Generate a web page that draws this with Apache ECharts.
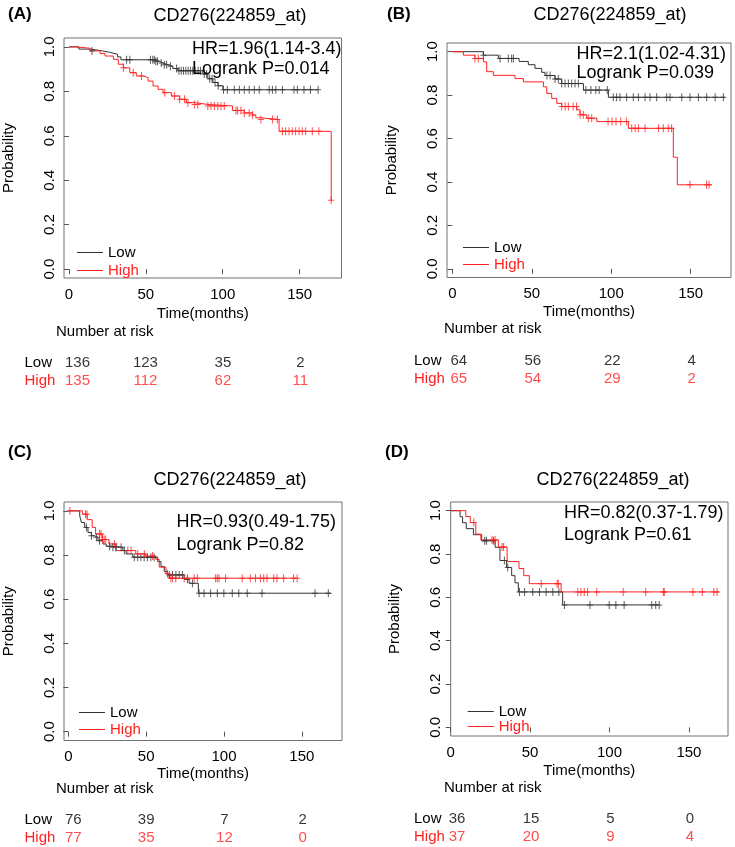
<!DOCTYPE html>
<html>
<head>
<meta charset="utf-8">
<title>CD276(224859_at) KM plots</title>
<script src="https://cdn.jsdelivr.net/npm/echarts@6.0.0/dist/echarts.min.js"></script>
<style>
  html, body { margin: 0; padding: 0; background: #fff; }
  #main { width: 735px; height: 847px; }
</style>
</head>
<body>
<div id="main"></div>
<script>
// ---- data ----
// step curves: time (months) where survival drops, survival after the drop
const aLowT  = [0, 6.5, 14.2, 21.8, 26.2, 31.6, 33.8, 56, 59, 61, 64.2, 67.5, 70.8, 87.1, 90.3, 93.6, 96.9, 100.1, 162];
const aLowP  = [1, 0.99, 0.982, 0.976, 0.967, 0.955, 0.942, 0.935, 0.928, 0.92, 0.913, 0.903, 0.893, 0.878, 0.857, 0.84, 0.825, 0.807, 0.807];
const aLowC  = [15, 37.5, 39.6, 53, 54.5, 55.5, 56.5, 57.5, 60, 62, 63.5, 66, 70, 71.5, 73, 74.5, 76, 77.5, 79, 80.5, 82, 84, 85.5, 88, 89.5, 91.5, 93, 95, 97, 100.5, 103, 107.5, 110.8, 114, 117.2, 120.5, 123.7, 130.2, 132.3, 134.5, 138.8, 146.3, 148.5, 152.8, 157, 162];
const aHighT = [0, 4.1, 13.8, 20.3, 23.5, 28.9, 32.1, 35.4, 39.6, 43.8, 48.3, 51.5, 54.7, 58, 61.2, 66.6, 72, 76.3, 81.7, 90.3, 106.4, 114, 119.4, 121.5, 124.8, 136.6, 170.5];
const aHighP = [1, 0.994, 0.982, 0.97, 0.959, 0.944, 0.922, 0.906, 0.884, 0.869, 0.862, 0.846, 0.824, 0.809, 0.794, 0.779, 0.764, 0.749, 0.741, 0.734, 0.714, 0.703, 0.693, 0.681, 0.673, 0.62, 0.31];
const aHighC = [35.4, 41.8, 47.2, 62.3, 68.7, 72, 75.2, 77.4, 81.7, 83.8, 90.3, 92.4, 94.6, 96.8, 98.9, 101, 108.6, 109.7, 111.8, 114, 117.2, 119.4, 124.8, 132.3, 135.5, 138.8, 140.9, 143.1, 145.2, 147.4, 149.6, 151.7, 153.9, 158.2, 162.5, 170.5];

const bLowT  = [0, 19.5, 28.9, 42, 47.8, 52, 56.2, 58.3, 64.6, 68.8, 82.5, 98.2, 171.5];
const bLowP  = [1, 0.984, 0.969, 0.955, 0.94, 0.923, 0.905, 0.89, 0.874, 0.853, 0.823, 0.79, 0.79];
const bLowC  = [19.5, 30, 35.2, 37.3, 38.4, 59.5, 61.5, 64.6, 66.7, 68.8, 70.9, 73, 75.1, 77.2, 79.3, 84, 87.2, 90.3, 92.4, 97.5, 101.3, 103.4, 105.5, 109.7, 113.9, 117.1, 121.3, 124.4, 128.6, 134.9, 137, 144.4, 149.6, 154.9, 160.1, 165.4, 170.6];
const bHighT = [0, 6.9, 14.2, 19.5, 21.6, 25.8, 39.4, 44.7, 57.3, 59.4, 62.5, 65.7, 68.8, 78.3, 80.4, 84.6, 90.9, 110.8, 139.1, 141.6, 163.2];
const bHighP = [1, 0.984, 0.969, 0.953, 0.908, 0.891, 0.876, 0.861, 0.838, 0.808, 0.785, 0.762, 0.747, 0.732, 0.709, 0.694, 0.678, 0.647, 0.514, 0.387, 0.387];
const bHighC = [14.2, 16.3, 68.8, 71, 73, 76, 78.2, 80.4, 82.4, 85.6, 87.7, 98, 100.5, 103, 106, 109.7, 112.9, 115, 117.1, 121.3, 129.7, 132.8, 135.9, 138, 149.6, 160, 161.6];

const cLowT  = [0, 7.3, 8.4, 10.5, 12.6, 14.8, 16.9, 19, 22.2, 24.3, 27.5, 35, 37.1, 41.4, 57.4, 59.5, 61.6, 63.7, 74.4, 77.6, 83.5, 169];
const cLowP  = [1, 0.977, 0.947, 0.925, 0.902, 0.887, 0.88, 0.865, 0.85, 0.84, 0.835, 0.82, 0.805, 0.79, 0.77, 0.748, 0.725, 0.71, 0.69, 0.672, 0.627, 0.627];
const cLowC  = [11.6, 14.8, 18, 20, 26.5, 28.6, 30.7, 33.9, 36, 42.3, 44.5, 46.6, 48.7, 50.8, 53, 55.1, 64.8, 66.9, 69.1, 71.2, 73.3, 76.5, 79.7, 84, 87.2, 91.4, 95.7, 99.9, 105.3, 109.5, 114.9, 124.4, 158.5, 167];
const cHighT = [0, 9, 12.1, 15.3, 17.5, 21.8, 26.1, 30.4, 43.3, 49.8, 56.2, 58.4, 62.7, 64.8, 147];
const cHighP = [1, 0.985, 0.96, 0.925, 0.895, 0.87, 0.85, 0.82, 0.805, 0.795, 0.78, 0.745, 0.715, 0.695, 0.695];
const cHighC = [1, 11, 12, 20, 21, 22, 23, 24, 29.7, 38.2, 40.3, 44.6, 48.8, 54.1, 63.7, 65.9, 67, 69, 74.4, 76.5, 80.8, 82.9, 94.6, 95.7, 96.8, 101, 111.7, 116.9, 120.2, 123.4, 125.5, 127.6, 131.9, 134, 138.3, 144.7, 147];

const dLowT  = [0, 5.9, 7.5, 9.8, 14.3, 19.5, 28, 31, 35.2, 38.4, 40.5, 42.6, 70.5, 131.3];
const dLowP  = [1, 0.972, 0.944, 0.917, 0.889, 0.861, 0.831, 0.77, 0.738, 0.7, 0.667, 0.625, 0.565, 0.565];
const dLowC  = [21.4, 22.5, 26.9, 33.8, 35.9, 43.3, 46.5, 51.7, 55.9, 60.1, 64.3, 68.1, 71.6, 87.7, 99.8, 104, 109.2, 126.6, 129.1, 131.3];
const dHighT = [0, 9.5, 12.3, 15.8, 19, 30, 35.5, 43, 46, 49.5, 69.5, 169];
const dHighP = [1, 0.973, 0.945, 0.892, 0.865, 0.832, 0.765, 0.733, 0.7, 0.663, 0.625, 0.625];
const dHighC = [14.5, 26, 27.9, 32.3, 33.3, 57, 67, 67.8, 80, 82, 84.1, 86.2, 92, 108.6, 122.8, 133.9, 134.5, 152.5, 158.4, 165.7, 167.8];

// number at risk
const riskTimes = [0, 50, 100, 150];
const aRiskLow = [136, 123, 35, 2],  aRiskHigh = [135, 112, 62, 11];
const bRiskLow = [64, 56, 22, 4],    bRiskHigh = [65, 54, 29, 2];
const cRiskLow = [76, 39, 7, 2],     cRiskHigh = [77, 35, 12, 0];
const dRiskLow = [36, 15, 5, 0],     dRiskHigh = [37, 20, 9, 4];

// tick labels / texts
const xTicks = [0, 50, 100, 150];
const yTicks = [0, 0.2, 0.4, 0.6, 0.8, 1.0];
const groups = ['Low', 'High'];
const panelLabels = ['(A)', '(B)', '(C)', '(D)'];
const plotTitle = 'CD276(224859_at)';
const hrTexts = [
  ['HR=1.96(1.14-3.4)', 'Logrank P=0.014'],
  ['HR=2.1(1.02-4.31)', 'Logrank P=0.039'],
  ['HR=0.93(0.49-1.75)', 'Logrank P=0.82'],
  ['HR=0.82(0.37-1.79)', 'Logrank P=0.61']
];

// ---- layout (pixels) ----
const layout = [
  {box: [62, 38, 341.5, 278],    xr: [-3.2, 177.2], lab: [8, 14],    title: [230, 16],    hr: [192, 49, 69],       leg: [72, 239],    gap: 1, rows: 354,   nar: [56, 332],    rowX: 24.5, nameGap: 28},
  {box: [447, 43, 731, 277.5],   xr: [-3.4, 175.4], lab: [387, 14],  title: [610, 15],    hr: [576.5, 54, 73.3],   leg: [458, 234],   gap: 0, rows: 352,   nar: [444, 329],   rowX: 414,  nameGap: 27},
  {box: [62.5, 502, 342, 740.5], xr: [-2.8, 175.8], lab: [8, 452],   title: [230, 480.5], hr: [176.5, 521.7, 545], leg: [74, 699],    gap: 0, rows: 811,   nar: [56, 789],    rowX: 24.5, nameGap: 26},
  {box: [450.7, 502, 728, 736],  xr: [0, 174.6],    lab: [385, 452], title: [613, 480],   hr: [564, 513.3, 535],   leg: [462.7, 698], gap: -2, rows: 810.3, nar: [444, 788.3], rowX: 414,  nameGap: 27}
];

const curves = [
  {lowT: aLowT, lowP: aLowP, lowC: aLowC, highT: aHighT, highP: aHighP, highC: aHighC, rl: aRiskLow, rh: aRiskHigh},
  {lowT: bLowT, lowP: bLowP, lowC: bLowC, highT: bHighT, highP: bHighP, highC: bHighC, rl: bRiskLow, rh: bRiskHigh},
  {lowT: cLowT, lowP: cLowP, lowC: cLowC, highT: cHighT, highP: cHighP, highC: cHighC, rl: cRiskLow, rh: cRiskHigh},
  {lowT: dLowT, lowP: dLowP, lowC: dLowC, highT: dHighT, highP: dHighP, highC: dHighC, rl: dRiskLow, rh: dRiskHigh}
];

const BLACK = '#333333';
const RED = '#ff2020';
const FONT = '"Liberation Sans", Arial, Helvetica, sans-serif';
const PLUS = 'path://M2.5,0 H3.5 V3.5 H6 V4.5 H3.5 V8 H2.5 V4.5 H0 V3.5 H2.5 Z';

// survival value at time t from a step curve
function stepAt(ts, ps, t) {
  let v = ps[0];
  for (let i = 0; i < ts.length; i++) if (ts[i] <= t) v = ps[i];
  return v;
}

// plot grids/axes are 0..3, risk-table grids/axes are 4..7
let grid = [], xAxis = [], yAxis = [];
let gridR = [], xAxisR = [], yAxisR = [];
let series = [], legend = [], graphic = [];

layout.forEach((L, i) => {
  const [x0, y0, x1, y1] = L.box;
  const c = curves[i];

  // plot area
  grid.push({left: x0, top: y0, width: x1 - x0, height: y1 - y0, show: true,
    borderColor: '#707070', borderWidth: 1, backgroundColor: 'transparent'});
  xAxis.push({gridIndex: i, type: 'value', min: L.xr[0], max: L.xr[1],
    axisLine: {show: false}, splitLine: {show: false},
    axisTick: {show: true, customValues: xTicks, length: 5, lineStyle: {color: '#555'}},
    axisLabel: {customValues: xTicks, margin: 9, fontSize: 15, color: '#000', fontFamily: FONT},
    name: 'Time(months)', nameLocation: 'middle', nameGap: L.nameGap,
    nameTextStyle: {fontSize: 15, color: '#000', fontFamily: FONT}});
  yAxis.push({gridIndex: i, type: 'value', min: -0.04, max: 1.04,
    axisLine: {show: false}, splitLine: {show: false},
    axisTick: {show: true, customValues: yTicks, length: 5, lineStyle: {color: '#555'}},
    axisLabel: {customValues: yTicks, rotate: 90, margin: 7, fontSize: 15, color: '#000', fontFamily: FONT,
      formatter: v => v.toFixed(1)},
    name: 'Probability', nameLocation: 'middle', nameGap: 48,
    nameTextStyle: {fontSize: 15, color: '#000', fontFamily: FONT}});

  series.push({type: 'line', name: 'Low', xAxisIndex: i, yAxisIndex: i, step: 'end', symbol: 'none',
    data: c.lowT.map((t, k) => [t, c.lowP[k]]), lineStyle: {color: BLACK, width: 1}, itemStyle: {color: BLACK}, z: 3});
  series.push({type: 'line', name: 'High', xAxisIndex: i, yAxisIndex: i, step: 'end', symbol: 'none',
    data: c.highT.map((t, k) => [t, c.highP[k]]), lineStyle: {color: RED, width: 1}, itemStyle: {color: RED}, z: 3});
  series.push({type: 'scatter', name: 'Low censored', xAxisIndex: i, yAxisIndex: i, symbol: PLUS, symbolSize: [6, 8],
    data: c.lowC.map(t => [t, stepAt(c.lowT, c.lowP, t)]), itemStyle: {color: BLACK}, z: 4});
  series.push({type: 'scatter', name: 'High censored', xAxisIndex: i, yAxisIndex: i, symbol: PLUS, symbolSize: [6, 8],
    data: c.highC.map(t => [t, stepAt(c.highT, c.highP, t)]), itemStyle: {color: RED}, z: 4});

  // number-at-risk table, same x scale as the plot
  const gi = 4 + i;
  gridR.push({left: x0, top: L.rows, width: x1 - x0, height: 36, show: false});
  xAxisR.push({gridIndex: gi, type: 'value', min: L.xr[0], max: L.xr[1], show: false});
  yAxisR.push({gridIndex: gi, type: 'category', data: groups, inverse: true,
    axisLine: {show: false}, axisTick: {show: false}, splitLine: {show: false},
    axisLabel: {show: true, interval: 0, align: 'left', margin: x0 - L.rowX, fontSize: 15, fontFamily: FONT,
      color: (v, idx) => (idx === 0 ? '#000' : RED)}});
  [c.rl, c.rh].forEach((arr, r) => {
    series.push({type: 'scatter', name: 'risk', xAxisIndex: gi, yAxisIndex: gi, symbolSize: 0, silent: true,
      data: riskTimes.map((t, j) => ({value: [t, r, arr[j]],
        label: {align: j === 0 ? 'left' : 'center', offset: [j === 0 ? -2 : 1, 0]}})),
      label: {show: true, position: 'inside', formatter: p => String(p.value[2]),
        color: r === 0 ? '#000' : RED, fontSize: 15, fontFamily: FONT}});
  });

  legend.push({left: L.leg[0], top: L.leg[1], orient: 'vertical', icon: 'rect', itemWidth: 26, itemHeight: 1,
    itemGap: L.gap, selectedMode: false, textStyle: {fontSize: 15, fontFamily: FONT, lineHeight: 17},
    data: [{name: 'Low', itemStyle: {color: BLACK}, textStyle: {color: '#000'}},
           {name: 'High', itemStyle: {color: RED}, textStyle: {color: RED}}]});

  graphic.push({type: 'text', x: L.lab[0], y: L.lab[1], style: {text: panelLabels[i],
    font: 'bold 17px ' + FONT, fill: '#000', textAlign: 'left', textVerticalAlign: 'middle'}});
  graphic.push({type: 'text', x: L.title[0], y: L.title[1], style: {text: plotTitle,
    font: '18px ' + FONT, fill: '#000', textAlign: 'center', textVerticalAlign: 'middle'}});
  graphic.push({type: 'text', x: L.hr[0], y: L.hr[1], style: {text: hrTexts[i][0],
    font: '18px ' + FONT, fill: '#000', textAlign: 'left', textVerticalAlign: 'middle'}, z: 10});
  graphic.push({type: 'text', x: L.hr[0], y: L.hr[2], style: {text: hrTexts[i][1],
    font: '18px ' + FONT, fill: '#000', textAlign: 'left', textVerticalAlign: 'middle'}, z: 10});
  graphic.push({type: 'text', x: L.nar[0], y: L.nar[1], style: {text: 'Number at risk',
    font: '15px ' + FONT, fill: '#000', textAlign: 'left', textVerticalAlign: 'middle'}});
});

const chart = echarts.init(document.getElementById('main'), null, {renderer: 'canvas'});
chart.setOption({
  animation: false,
  backgroundColor: '#fff',
  textStyle: {fontFamily: FONT},
  grid: grid.concat(gridR),
  xAxis: xAxis.concat(xAxisR),
  yAxis: yAxis.concat(yAxisR),
  series, legend, graphic
});
</script>
</body>
</html>
